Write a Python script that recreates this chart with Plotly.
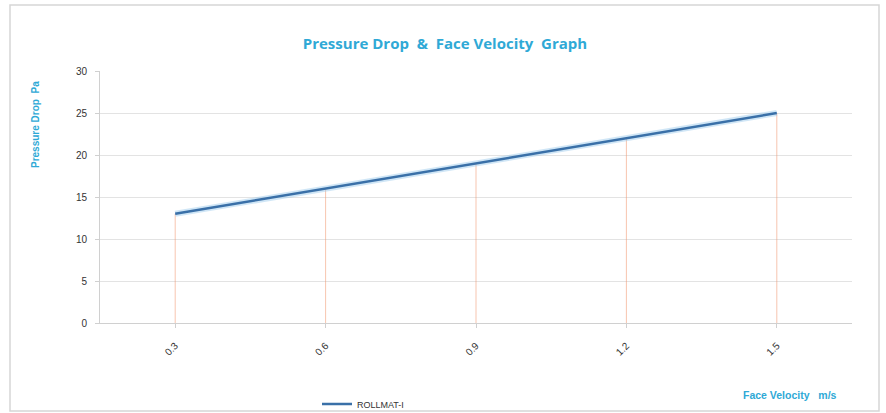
import plotly.graph_objects as go

velocity = [0.3, 0.6, 0.9, 1.2, 1.5]
velocity_labels = ["0.3", "0.6", "0.9", "1.2", "1.5"]
pressure_drop = [13, 16, 19, 22, 25]
series_name = "ROLLMAT-I"

# drop lines from each point to the x axis
drop_x, drop_y = [], []
for v, p in zip(velocity, pressure_drop):
    drop_x += [v, v, None]
    drop_y += [0, p, None]

fig = go.Figure()
fig.add_trace(go.Scatter(x=drop_x, y=drop_y, mode="lines",
                         line=dict(color="rgba(240,150,110,0.55)", width=1),
                         showlegend=False, hoverinfo="skip"))
# soft glow under the line
fig.add_trace(go.Scatter(x=velocity, y=pressure_drop, mode="lines",
                         line=dict(color="rgba(150,200,235,0.45)", width=6),
                         showlegend=False, hoverinfo="skip"))
fig.add_trace(go.Scatter(x=velocity, y=pressure_drop, mode="lines", name=series_name,
                         line=dict(color="#3A70A8", width=2.5)))

W, H = 886, 413
L, R, T, B = 100, 34, 71, 90
pw, ph = W - L - R, H - T - B

def px(x):
    return (x - L) / pw

def py(y):
    return (H - B - y) / ph

cyan = "#2FA9D6"
fig.update_layout(
    width=W, height=H,
    margin=dict(l=L, r=R, t=T, b=B, autoexpand=False),
    paper_bgcolor="white", plot_bgcolor="white",
    font=dict(family="Liberation Sans, Arial, sans-serif", color="#333333"),
    title=dict(text="<b>Pressure Drop  &  Face Velocity  Graph</b>",
               x=px(445), xref="paper", xanchor="center",
               y=1 - 44 / H, yanchor="middle",
               font=dict(size=15, color=cyan, family="Open Sans, sans-serif")),
    xaxis=dict(range=[0.15, 1.65], tickvals=velocity, ticktext=velocity_labels,
               tickangle=-45, showgrid=False, zeroline=False, automargin=False,
               showline=True, linecolor="#D0D0D0", linewidth=1,
               ticks="outside", ticklen=4, tickcolor="#D0D0D0", ticklabelstandoff=8,
               tickfont=dict(size=10, color="#333333")),
    yaxis=dict(range=[0, 30], dtick=5, showgrid=True, gridcolor="#E3E3E3",
               zeroline=False, showline=True, linecolor="#D0D0D0", linewidth=1,
               automargin=False,
               ticks="outside", ticklen=4, tickcolor="#D0D0D0", ticklabelstandoff=6,
               tickfont=dict(size=10, color="#333333")),
    legend=dict(orientation="h", x=px(317), xanchor="left", y=py(404), yanchor="middle",
                font=dict(size=9, color="#333333"), itemwidth=30,
                bgcolor="rgba(0,0,0,0)"),
    showlegend=True,
    shapes=[dict(type="rect", xref="paper", yref="paper",
                 x0=px(10), x1=px(879), y0=py(411), y1=py(5),
                 line=dict(color="#D6D6D6", width=1.5), fillcolor="rgba(0,0,0,0)",
                 layer="below")],
    annotations=[
        dict(text="<b>Pressure Drop  Pa</b>", xref="paper", yref="paper",
             x=px(35), y=py(125), xanchor="center", yanchor="middle",
             textangle=-90, showarrow=False,
             font=dict(size=10, color=cyan)),
        dict(text="<b>Face Velocity   m/s</b>", xref="paper", yref="paper",
             x=px(790), y=py(395), xanchor="center", yanchor="middle",
             showarrow=False,
             font=dict(size=10.5, color=cyan)),
    ],
)

fig.write_html("out.html")
